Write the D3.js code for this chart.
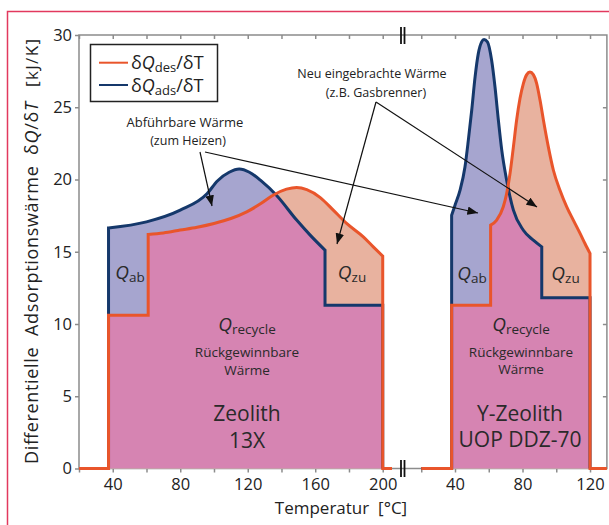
<!DOCTYPE html>
<meta charset="utf-8" />
<style>
  body { margin: 0; background: #fff; }
  svg { display: block; font-family: "Open Sans", sans-serif; }
  .tick line { stroke: #8c8c8c; stroke-width: 1.5px; }
  .tick text { font-size: 16.5px; fill: #222; font-family: "Open Sans", sans-serif; }
  .ann { font-size: 12.5px; fill: #222; text-anchor: middle; }
  .inner { fill: #2a2a2a; text-anchor: middle; }
</style>

<svg width="609" height="525"></svg>

<script src="https://d3js.org/d3.v7.min.js"></script>
<script>
  // [Temperatur °C, dQ/dT kJ/K]
  var des13X = [[20,0],[37.5,0],[37.5,10.6],[61,10.6],[61,16.2],[70,16.3],[80,16.5],[90,16.7],[100,16.96],
    [110,17.3],[119.4,17.76],[128,18.35],[135,18.91],[143,19.33],[149,19.45],[155,19.3],[163,18.75],
    [170.7,17.88],[178.6,16.96],[188.5,16.03],[194.4,15.34],[200,14.7],[200,0],[205.5,0]];
  var ads13X = [[20,0],[37.5,0],[37.5,16.65],[60,17.07],[80,17.88],[96,19.03],[102,19.9],[109,20.5],
    [115,20.72],[121,20.5],[128,19.9],[137,18.91],[149,17.19],[157,16.15],[165.8,15.11],[165.8,11.3],
    [200,11.3],[200,0]];
  var desY = [[20,0],[38,0],[38,11.3],[61.1,11.3],[61.1,16.84],[64.7,17.19],[68.6,18.11],[70.6,19.03],
    [72.6,20.41],[74.6,22.26],[76.5,24.1],[78.5,25.6],[80.5,26.64],[82.5,27.26],[84.4,27.44],[86.4,27.26],
    [88.4,26.64],[90.4,25.48],[92.4,24.1],[95.3,22.26],[98.3,20.64],[102.2,19.26],[106.2,18.11],
    [110.1,17.19],[114.1,16.27],[117,15.57],[120,14.88],[120,0],[130,0]];
  var adsY = [[20,0],[38,0],[38,17.53],[40,18.22],[43,19.26],[45.9,20.87],[47.9,22.72],[49.9,24.79],
    [51.9,27.1],[53.8,28.71],[55.8,29.52],[57.2,29.68],[59.2,29.52],[61.7,28.25],[63.7,26.4],[65.7,24.1],
    [67.7,22.03],[70.6,19.95],[74.6,17.88],[80.5,16.49],[86.4,15.8],[91.4,15.34],[91.4,11.81],
    [120,11.81],[120,0]];

  var xTicksLeft = [20, 40, 60, 80, 100, 120, 140, 160, 180, 200];
  var xLabelsLeft = [40, 80, 120, 160, 200];
  var xTicksRight = [20, 40, 60, 80, 100, 120];
  var xLabelsRight = [40, 80, 120];
  var yTicks = [0, 5, 10, 15, 20, 25, 30];

  var navy = "#15386b", orange = "#e9552b";
  var lavender = "#a6a5cf", salmon = "#e8b29f", pink = "#d684b2", gray = "#8c8c8c";
  var sp = "\u00a0";

  var svg = d3.select("svg");
  var y = d3.scaleLinear().domain([0, 30]).range([468.5, 35]);
  var xL = d3.scaleLinear().domain([20, 210]).range([79, 399.6]);
  var xR = d3.scaleLinear().domain([20, 130]).range([421.25, 606.9]);

  // red frame
  svg.append("path")
    .attr("d", "M7.5,540V11.5H620")
    .attr("fill", "none").attr("stroke", "#e2395e").attr("stroke-width", 1.5);

  // axes
  function noDomain(g) { g.select(".domain").remove(); }
  svg.append("g").attr("transform", "translate(0," + y(0) + ")")
    .call(d3.axisBottom(xL).tickValues(xTicksLeft).tickSize(4).tickPadding(6)
      .tickFormat(function (d) { return xLabelsLeft.indexOf(d) >= 0 ? d : ""; }))
    .call(noDomain);
  svg.append("g").attr("transform", "translate(0," + y(0) + ")")
    .call(d3.axisBottom(xR).tickValues(xTicksRight).tickSize(4).tickPadding(6)
      .tickFormat(function (d) { return xLabelsRight.indexOf(d) >= 0 ? d : ""; }))
    .call(noDomain);
  svg.append("g").attr("transform", "translate(0," + y(30) + ")")
    .call(d3.axisTop(xL).tickValues(xTicksLeft).tickSize(-4).tickFormat(""))
    .call(noDomain);
  svg.append("g").attr("transform", "translate(0," + y(30) + ")")
    .call(d3.axisTop(xR).tickValues(xTicksRight).tickSize(-4).tickFormat(""))
    .call(noDomain);
  svg.append("g").attr("transform", "translate(" + xL(20) + ",0)")
    .call(d3.axisLeft(y).tickValues(yTicks).tickSize(4).tickPadding(3))
    .call(noDomain);
  svg.append("g").attr("transform", "translate(" + xR(130) + ",0)")
    .call(d3.axisRight(y).tickValues(yTicks.slice(1, 6)).tickSize(-4).tickFormat(""))
    .call(noDomain);
  svg.selectAll(".tick text").attr("fill", "#222");

  svg.append("path")
    .attr("d", "M" + xL(20) + "," + y(0) + "H" + xR(130) + "V" + y(30) + "H" + xL(20) + "Z")
    .attr("fill", "none").attr("stroke", gray).attr("stroke-width", 1.5);

  // smooth runs joined by straight vertical steps
  function stepPath(x, pts) {
    var line = d3.line().curve(d3.curveMonotoneX)
      .x(function (d) { return x(d[0]); }).y(function (d) { return y(d[1]); });
    var runs = [[pts[0]]];
    for (var i = 1; i < pts.length; i++) {
      if (pts[i][0] === pts[i - 1][0]) runs.push([pts[i]]);
      else runs[runs.length - 1].push(pts[i]);
    }
    return runs.map(function (r, i) {
      var s = r.length > 1 ? line(r) : "M" + x(r[0][0]) + "," + y(r[0][1]);
      return i ? "L" + s.slice(1) : s;
    }).join("");
  }
  function areaPath(x, pts) {
    return stepPath(x, pts) + "L" + x(pts[pts.length - 1][0]) + "," + y(0) + "L" + x(pts[0][0]) + "," + y(0) + "Z";
  }

  function panel(x, des, ads, id) {
    svg.append("clipPath").attr("id", "clip-" + id).append("path").attr("d", areaPath(x, ads));
    var g = svg.append("g");
    g.append("path").attr("d", areaPath(x, ads)).attr("fill", lavender);
    g.append("path").attr("d", areaPath(x, des)).attr("fill", salmon);
    g.append("path").attr("d", areaPath(x, des)).attr("fill", pink).attr("clip-path", "url(#clip-" + id + ")");
    g.append("path").attr("d", stepPath(x, ads)).attr("fill", "none").attr("stroke", navy).attr("stroke-width", 3);
    g.append("path").attr("d", stepPath(x, des)).attr("fill", "none").attr("stroke", orange).attr("stroke-width", 3);
  }
  panel(xL, des13X, ads13X, "a");
  panel(xR, desY, adsY, "b");

  // axis break marks
  [[27, 44], [460, 477]].forEach(function (r) {
    [401, 404.5].forEach(function (bx) {
      svg.append("line").attr("x1", bx).attr("x2", bx).attr("y1", r[0]).attr("y2", r[1])
        .attr("stroke", "#111").attr("stroke-width", 1.8);
    });
  });

  // legend
  var leg = svg.append("g");
  leg.append("rect").attr("x", 90.5).attr("y", 44.5).attr("width", 127).attr("height", 57)
    .attr("fill", "#fff").attr("stroke", "#222").attr("stroke-width", 1.5);
  [["des", orange, 62.7], ["ads", navy, 85]].forEach(function (r) {
    leg.append("line").attr("x1", 99).attr("x2", 128).attr("y1", r[2]).attr("y2", r[2])
      .attr("stroke", r[1]).attr("stroke-width", 2);
    var t = leg.append("text").attr("x", 131).attr("y", r[2] + 6.5).attr("font-size", 18).attr("fill", "#222");
    t.append("tspan").text("δ");
    t.append("tspan").attr("font-style", "italic").text("Q");
    t.append("tspan").attr("font-size", 13).attr("dy", 3).text(r[0]);
    t.append("tspan").attr("dy", -3).text("/δT");
  });

  // axis titles
  var yt = svg.append("text").attr("transform", "translate(38,283) rotate(-90)")
    .attr("text-anchor", "middle").attr("font-size", 18).attr("fill", "#222")
    .attr("textLength", 362).attr("lengthAdjust", "spacing");
  yt.append("tspan").text("Differentielle" + sp + sp + "Adsorptionswärme" + sp + sp + "δ");
  yt.append("tspan").attr("font-style", "italic").text("Q");
  yt.append("tspan").text("/δ");
  yt.append("tspan").attr("font-style", "italic").text("T");
  svg.append("text").attr("transform", "translate(38,63) rotate(-90)")
    .attr("text-anchor", "middle").attr("font-size", 17).attr("fill", "#222")
    .attr("textLength", 48).attr("lengthAdjust", "spacing").text("[kJ/K]");
  svg.append("text").attr("x", 341).attr("y", 514).attr("text-anchor", "middle")
    .attr("font-size", 17).attr("fill", "#222").text("Temperatur" + sp + sp + "[°C]");

  // annotations
  var defs = svg.append("defs");
  defs.append("marker").attr("id", "head").attr("viewBox", "0 -4 10 8")
    .attr("refX", 10).attr("refY", 0).attr("markerWidth", 11).attr("markerHeight", 8.5)
    .attr("markerUnits", "userSpaceOnUse").attr("orient", "auto")
    .append("path").attr("d", "M0,-4L10,0L0,4Z").attr("fill", "#111");
  [[376, 102, 337, 244], [376, 102, 537, 207], [200, 152, 212, 206], [205, 152, 478, 213]]
    .forEach(function (a) {
      svg.append("line").attr("x1", a[0]).attr("y1", a[1]).attr("x2", a[2]).attr("y2", a[3])
        .attr("stroke", "#111").attr("stroke-width", 1.2).attr("marker-end", "url(#head)");
    });
  svg.append("text").attr("class", "ann").attr("x", 372).attr("y", 78).text("Neu eingebrachte Wärme");
  svg.append("text").attr("class", "ann").attr("x", 376).attr("y", 96.5).text("(z.B. Gasbrenner)");
  svg.append("text").attr("class", "ann").attr("x", 185).attr("y", 127).style("font-size", "13px").text("Abführbare Wärme");
  svg.append("text").attr("class", "ann").attr("x", 188).attr("y", 145).text("(zum Heizen)");

  // labels inside the areas
  function qLabel(cx, by, sub) {
    var t = svg.append("text").attr("class", "inner").attr("x", cx).attr("y", by).attr("font-size", 19);
    t.append("tspan").attr("font-style", "italic").text("Q");
    t.append("tspan").attr("font-size", 13.5).attr("dy", 3).text(sub);
  }
  function plain(cx, by, size, s) {
    svg.append("text").attr("class", "inner").attr("x", cx).attr("y", by).attr("font-size", size).text(s);
  }
  qLabel(130, 279, "ab");
  qLabel(352, 279, "zu");
  qLabel(247, 330.5, "recycle");
  plain(247, 357, 13.5, "Rückgewinnbare");
  plain(247, 375, 13.5, "Wärme");
  plain(247, 421, 21, "Zeolith");
  plain(247, 448, 21, "13X");
  qLabel(472, 280, "ab");
  qLabel(565.5, 280, "zu");
  qLabel(521, 330.5, "recycle");
  plain(521, 357, 13.5, "Rückgewinnbare");
  plain(521, 374, 13.5, "Wärme");
  plain(520, 421, 21, "Y-Zeolith");
  plain(520, 447, 21, "UOP DDZ-70");
</script>
